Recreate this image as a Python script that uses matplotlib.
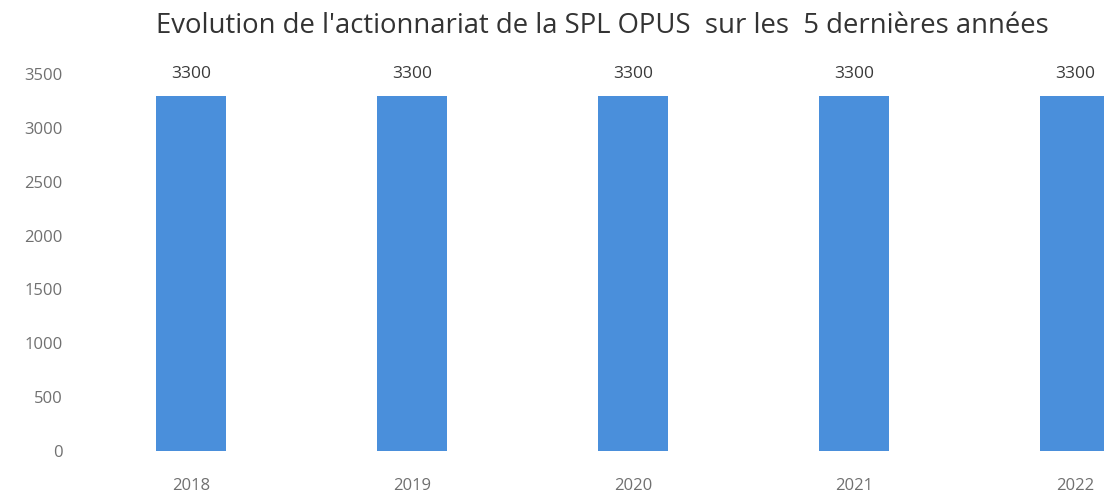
import matplotlib
matplotlib.use("Agg")
import matplotlib.pyplot as plt

years = ["2018", "2019", "2020", "2021", "2022"]
shares = [3300, 3300, 3300, 3300, 3300]
yticks = [0, 500, 1000, 1500, 2000, 2500, 3000, 3500]

plt.rcParams["font.family"] = ["Open Sans", "DejaVu Sans"]

fig = plt.figure(figsize=(11.04, 4.95), dpi=100)
ax = fig.add_axes([75 / 1104, 1 - 451 / 495, 1 - 75 / 1104, (451 - 74) / 495])

x = list(range(len(years)))
bars = ax.bar(x, shares, width=0.315, color="#4a8fdb", edgecolor="none")
for xi, v in zip(x, shares):
    ax.text(xi, v + 130, str(v), ha="center", va="bottom", fontsize=12.5, color="#3a3a3a")

ax.set_xlim(-0.525, 4.131)
ax.set_ylim(0, 3500)
ax.set_xticks(x)
ax.set_xticklabels(years)
ax.set_yticks(yticks)
ax.tick_params(axis="both", length=0, labelsize=12, labelcolor="#707070")
ax.tick_params(axis="x", pad=19.5)
ax.tick_params(axis="y", pad=9)
for s in ax.spines.values():
    s.set_visible(False)

fig.text(0.546, 1 - 26 / 495, "Evolution de l'actionnariat de la SPL OPUS  sur les  5 dernières années",
         ha="center", va="center", fontsize=19.8, color="#333333")

fig.savefig("out.png", dpi=100)
